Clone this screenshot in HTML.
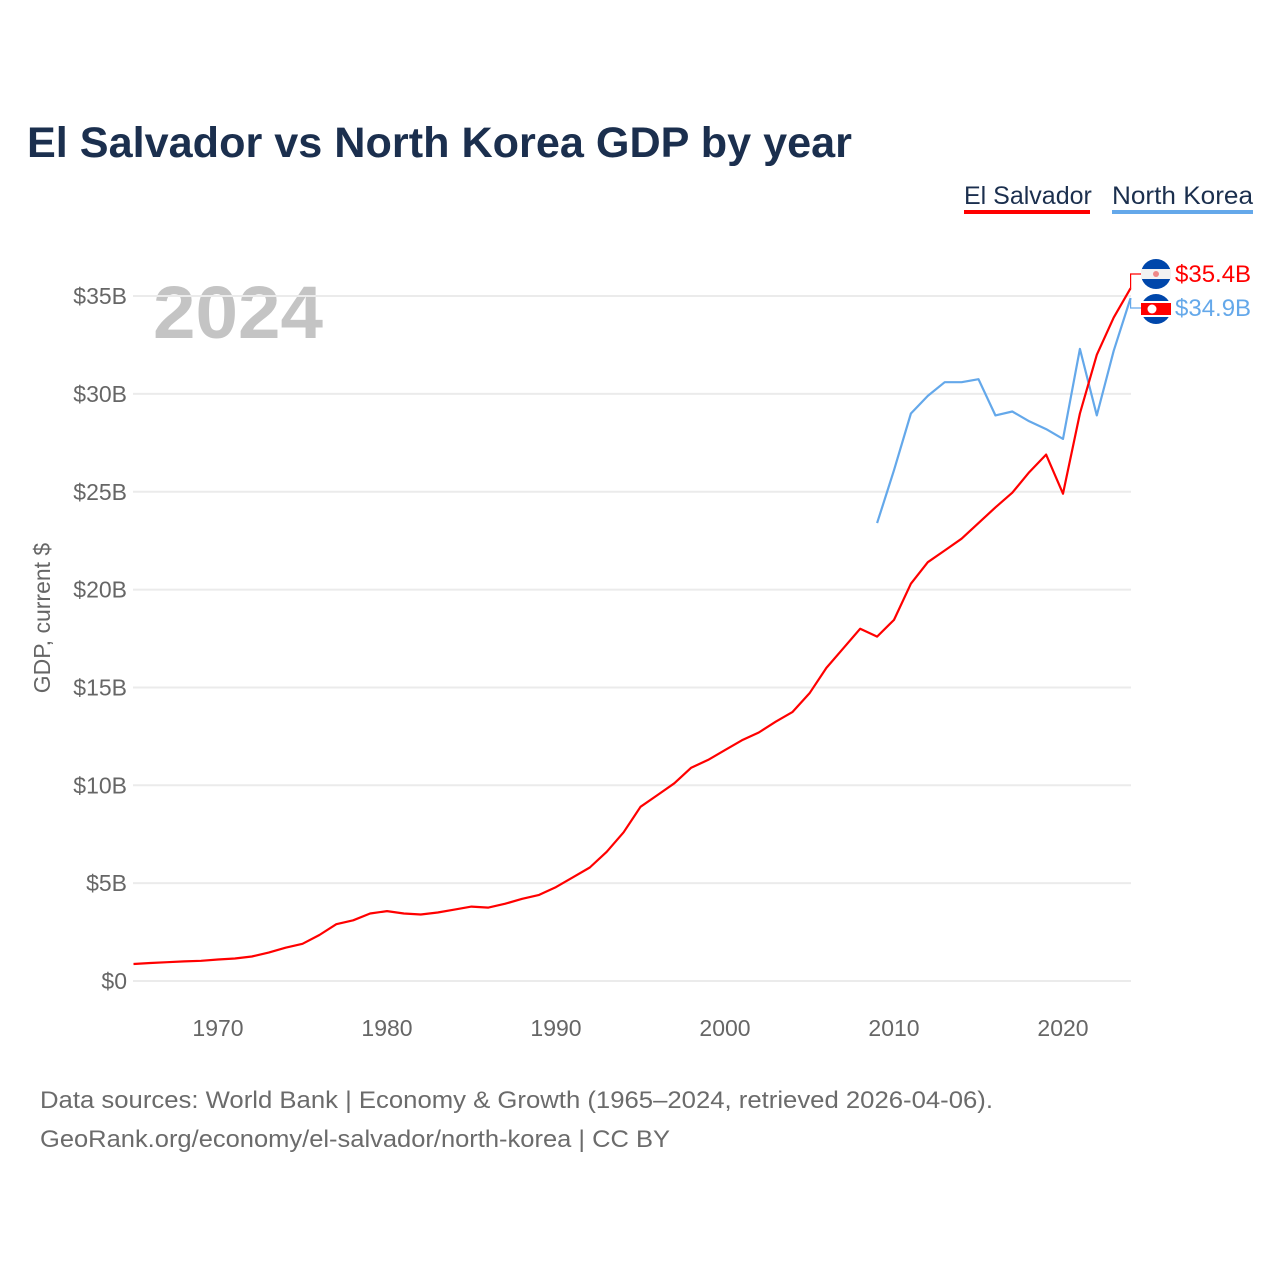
<!DOCTYPE html>
<html><head><meta charset="utf-8"><style>
body{margin:0;background:#fff;font-family:"Liberation Sans",sans-serif}
#wrap{position:relative;width:1280px;height:1280px;overflow:hidden}
</style></head><body>
<div id="wrap">
<svg id="chart" width="1280" height="1280" style="position:absolute;left:0;top:0">
<text x="27" y="157" font-size="43" font-weight="bold" fill="#1b2f4e" textLength="825" lengthAdjust="spacingAndGlyphs">El Salvador vs North Korea GDP by year</text>
<g>
<text x="964" y="204" font-size="25" fill="#1b2f4e">El Salvador</text>
<rect x="964" y="210" width="126" height="4" fill="#ff0000"/>
<text x="1112" y="204" font-size="25" fill="#1b2f4e" textLength="141" lengthAdjust="spacingAndGlyphs">North Korea</text>
<rect x="1112" y="210" width="141" height="4" fill="#64a8ea"/>
</g>
<text x="153" y="338" font-size="74" font-weight="bold" fill="#c4c4c4" textLength="170" lengthAdjust="spacingAndGlyphs">2024</text>
<text transform="translate(50,618) rotate(-90)" text-anchor="middle" font-size="23" fill="#666">GDP, current $</text>
<g id="grid"></g><g id="yt"></g><g id="xt"></g><g id="lines"></g><g id="ends"></g>
<text x="40" y="1108" font-size="24" fill="#6b6b6b" textLength="953" lengthAdjust="spacingAndGlyphs">Data sources: World Bank | Economy &amp; Growth (1965–2024, retrieved 2026-04-06).</text>
<text x="40" y="1147" font-size="24" fill="#6b6b6b" textLength="630" lengthAdjust="spacingAndGlyphs">GeoRank.org/economy/el-salvador/north-korea | CC BY</text>
</svg>
</div>
<script>
const yTicks=[0,5,10,15,20,25,30,35];
const yTickLabels=["$0","$5B","$10B","$15B","$20B","$25B","$30B","$35B"];
const xTicks=[1970,1980,1990,2000,2010,2020];
const elsYears=[];for(let y=1965;y<=2024;y++)elsYears.push(y);
const elSalvador=[0.87,0.92,0.96,1.0,1.03,1.1,1.15,1.25,1.45,1.7,1.9,2.35,2.9,3.1,3.45,3.57,3.45,3.4,3.5,3.65,3.8,3.75,3.95,4.2,4.4,4.8,5.3,5.8,6.6,7.6,8.9,9.5,10.1,10.9,11.3,11.8,12.3,12.7,13.25,13.75,14.7,16.0,17.0,18.0,17.6,18.45,20.3,21.4,22.0,22.6,23.4,24.2,24.95,26.0,26.9,24.9,29.0,32.0,33.9,35.4];
const nkYears=[2009,2010,2011,2012,2013,2014,2015,2016,2017,2018,2019,2020,2021,2022,2023,2024];
const northKorea=[23.4,26.1,29.0,29.9,30.6,30.6,30.75,28.9,29.1,28.6,28.2,27.7,32.3,28.9,32.2,34.9];
const NS="http://www.w3.org/2000/svg";
const X=yr=>133.5+(yr-1965)*16.9;
const Y=v=>981-v*19.57;
function mk(t,a,p){const e=document.createElementNS(NS,t);for(const k in a)e.setAttribute(k,a[k]);p.appendChild(e);return e;}
const grid=document.getElementById('grid'),yt=document.getElementById('yt'),xt=document.getElementById('xt'),lines=document.getElementById('lines'),ends=document.getElementById('ends');
yTicks.forEach((v,i)=>{
 const l=mk('line',{x1:133,x2:1131,y1:Y(v),y2:Y(v),stroke:'#ebebeb','stroke-width':2},grid);
 
 
 const t=mk('text',{x:127,y:Y(v)+8,'text-anchor':'end','font-size':23,fill:'#666'},yt);
 t.textContent=yTickLabels[i];
 
 
});
xTicks.forEach(v=>{
 const t=mk('text',{x:X(v),y:1036,'text-anchor':'middle','font-size':23,fill:'#666'},xt);
 t.textContent=v;
 
 
});
function path(xs,vs,col,name){
 const d=xs.map((x,i)=>(i?'L':'M')+X(x).toFixed(1)+','+Y(vs[i]).toFixed(1)).join('');
 const p=mk('path',{d:d,fill:'none',stroke:col,'stroke-width':2.2,'stroke-linejoin':'round'},lines);
 
 
}
path(nkYears,northKorea,'#64a8ea','line-north-korea');
path(elsYears,elSalvador,'#ff0000','line-el-salvador');
const elsV=elSalvador[elSalvador.length-1],nkV=northKorea[northKorea.length-1];
const ex=X(2024);
let c=mk('path',{d:`M${ex},${Y(elsV)}V274H1143`,fill:'none',stroke:'#ff0000','stroke-width':1.2},ends);

c=mk('path',{d:`M${ex},${Y(nkV)}V308H1143`,fill:'none',stroke:'#64a8ea','stroke-width':1.2},ends);

let g=mk('g',{},ends);
mk('circle',{cx:1156,cy:274,r:15,fill:'#0047ab'},g);
mk('rect',{x:1141,y:269,width:30,height:10,fill:'#f2f2f2'},g);
mk('circle',{cx:1156,cy:274,r:3,fill:'#e88'},g);
g=mk('g',{},ends);
mk('circle',{cx:1156,cy:309,r:15,fill:'#0047ab'},g);
mk('rect',{x:1141,y:301,width:30,height:16,fill:'#fff'},g);
mk('rect',{x:1141,y:303,width:30,height:12,fill:'#ff0000'},g);
mk('circle',{cx:1152,cy:309,r:4.5,fill:'#fff'},g);
let t=mk('text',{x:1175,y:282,'font-size':24,fill:'#ff0000'},ends);t.textContent='$'+elsV.toFixed(1)+'B';

t=mk('text',{x:1175,y:316,'font-size':24,fill:'#64a8ea'},ends);t.textContent='$'+nkV.toFixed(1)+'B';

</script>
</body></html>
